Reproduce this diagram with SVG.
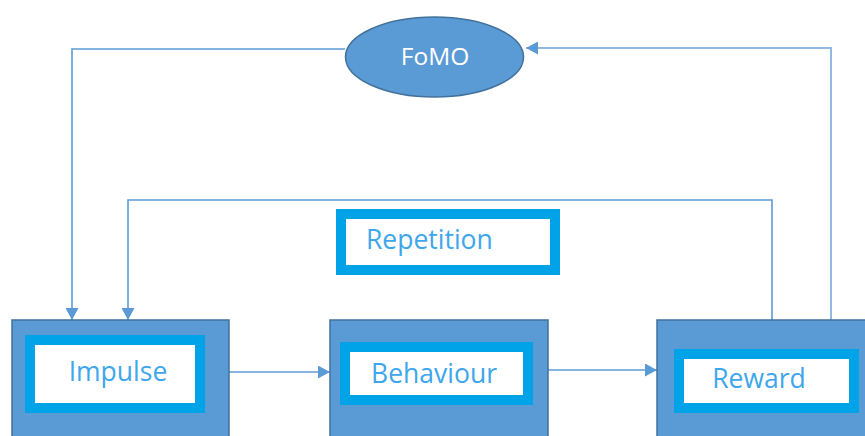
<svg xmlns="http://www.w3.org/2000/svg" width="865" height="436" viewBox="0 0 865 436">
<defs>
<style>
.outer{fill:#5b9bd5;stroke:#41719c;stroke-width:1.5}
.inner{fill:#ffffff;stroke:#00a2e8;stroke-width:10}
.lbl{font-family:"Open Sans","Noto Sans",sans-serif;font-size:26.5px;fill:#3ea6ec}
.conn{fill:none;stroke:#5b9bd5;stroke-width:1.6}
</style>
<marker id="ah" viewBox="0 0 12 13" refX="12" refY="6.5" markerWidth="12" markerHeight="13" markerUnits="userSpaceOnUse" orient="auto">
<path d="M0,0 L12,6.5 L0,13 Z" fill="#5b9bd5"/>
</marker>
</defs>
<g id="connectors">
<path class="conn" d="M345,49 H72 V320" marker-end="url(#ah)"/>
<path class="conn" d="M772,320 V200 H128 V320" marker-end="url(#ah)"/>
<path class="conn" d="M831,320 V48 H526" style="stroke:#8fbbe3;stroke-width:2" marker-end="url(#ah)"/>
<path class="conn" d="M229,372 H330" marker-end="url(#ah)"/>
<path class="conn" d="M548,370 H657" marker-end="url(#ah)"/>
</g>
<g id="fomo">
<ellipse cx="434.5" cy="57" rx="89" ry="40" fill="#5b9bd5" stroke="#41719c" stroke-width="1.5"/>
<text x="435" y="65" text-anchor="middle" style="font-family:'Open Sans','Noto Sans',sans-serif;font-size:24.5px;fill:#ffffff">FoMO</text>
</g>
<g id="repetition">
<rect class="inner" x="341" y="214" width="214" height="56"/>
<text class="lbl" x="366" y="249">Repetition</text>
</g>
<g id="impulse">
<rect class="outer" x="12" y="320" width="217" height="120"/>
<rect class="inner" x="30" y="340" width="170" height="68"/>
<text class="lbl" x="118" y="381" text-anchor="middle">Impulse</text>
</g>
<g id="behaviour">
<rect class="outer" x="330" y="320" width="218" height="120"/>
<rect class="inner" x="345" y="347" width="183" height="53"/>
<text class="lbl" x="434" y="383" text-anchor="middle">Behaviour</text>
</g>
<g id="reward">
<rect class="outer" x="657" y="320" width="215" height="120"/>
<rect class="inner" x="679" y="354" width="175" height="54"/>
<text class="lbl" x="759" y="388" text-anchor="middle">Reward</text>
</g>
</svg>
